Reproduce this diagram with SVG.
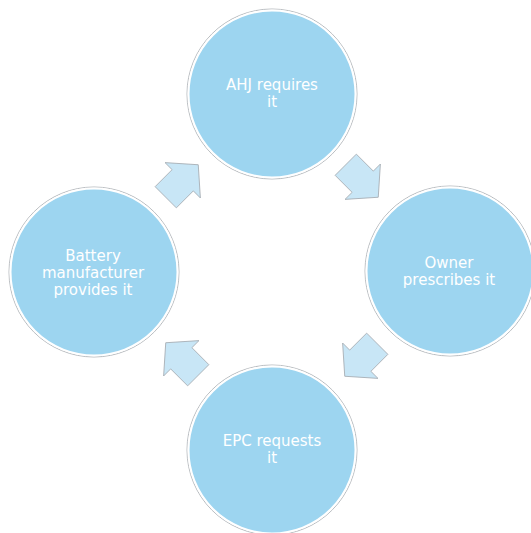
<svg xmlns="http://www.w3.org/2000/svg" width="531" height="533" viewBox="0 0 531 533">
  <defs>
    <style>
      .ring { fill: none; stroke: #b8bcc0; stroke-width: 1; }
      .disc { fill: #9dd5f0; stroke: #ffffff; stroke-width: 2; }
      .label { font-family: "DejaVu Sans", Verdana, sans-serif; font-size: 15px; fill: #ffffff; text-anchor: middle; }
      .arrow { fill: #c8e6f6; stroke: #a4aab0; stroke-width: 0.8; stroke-linejoin: miter; }
    </style>
    <!-- block arrow pointing along +x, centred on the origin -->
    <polygon id="blockArrow" points="-23,-15 1,-15 1,-25 23,0 1,25 1,15 -23,15"/>
  </defs>
  <rect width="531" height="533" fill="#ffffff"/>

  <g id="connectors">
    <use href="#blockArrow" class="arrow" transform="translate(362,181) rotate(45)"/>
    <use href="#blockArrow" class="arrow" transform="translate(361,360) rotate(135)"/>
    <use href="#blockArrow" class="arrow" transform="translate(182,359) rotate(225)"/>
    <use href="#blockArrow" class="arrow" transform="translate(182,181) rotate(-45)"/>
  </g>

  <g id="node-ahj">
    <circle class="ring" cx="272" cy="94" r="85"/>
    <circle class="disc" cx="272" cy="94" r="83.5"/>
    <text class="label" x="272" y="90">AHJ requires</text>
    <text class="label" x="272" y="107">it</text>
  </g>

  <g id="node-owner">
    <circle class="ring" cx="450" cy="271" r="85"/>
    <circle class="disc" cx="450" cy="271" r="83.5"/>
    <text class="label" x="449" y="268">Owner</text>
    <text class="label" x="449" y="285">prescribes it</text>
  </g>

  <g id="node-epc">
    <circle class="ring" cx="272" cy="450" r="85"/>
    <circle class="disc" cx="272" cy="450" r="83.5"/>
    <text class="label" x="272" y="446">EPC requests</text>
    <text class="label" x="272" y="463">it</text>
  </g>

  <g id="node-battery">
    <circle class="ring" cx="94" cy="272" r="85"/>
    <circle class="disc" cx="94" cy="272" r="83.5"/>
    <text class="label" x="93" y="261">Battery</text>
    <text class="label" x="93" y="278">manufacturer</text>
    <text class="label" x="93" y="295">provides it</text>
  </g>
</svg>
